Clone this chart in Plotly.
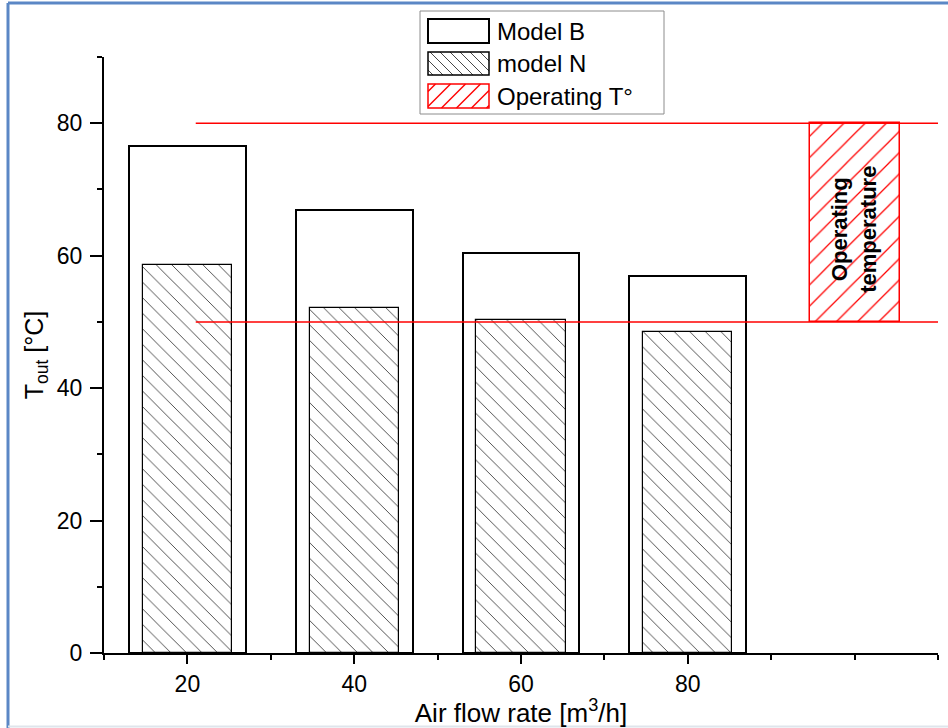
import plotly.graph_objects as go

# ---------------- data ----------------
flow_rates = [20, 40, 60, 80]
model_b = [76.5, 66.9, 60.4, 57.0]
model_n = [58.6, 52.1, 50.3, 48.5]
op_x = [100]
op_low = 50
op_high = 80
x_tickvals = [20, 40, 60, 80]
x_extra_tick = [100]
y_tickvals = [0, 20, 40, 60, 80]
legend_names = ["Model B", "model N", "Operating T°"]

# ---------------- layout geometry ----------------
WIDTH, HEIGHT = 948, 728
L, R, T, B = 104, 938, 57, 653
PW, PH = R - L, B - T
FONT = "Liberation Sans, Arial, sans-serif"


def px(xp):
    return (xp - L) / PW


def py(yp):
    return (B - yp) / PH


fig = go.Figure()

fig.add_trace(go.Bar(
    x=flow_rates, y=model_b, width=14, name=legend_names[0],
    marker=dict(color="white", line=dict(color="black", width=2)),
    showlegend=False,
))
fig.add_trace(go.Bar(
    x=flow_rates, y=model_n, width=10.7, name=legend_names[1],
    marker=dict(color="white", line=dict(color="black", width=1.2),
                pattern=dict(shape="\\", fgcolor="#3a3a3a", bgcolor="white", fgopacity=1,
                             size=11, solidity=0.08)),
    showlegend=False,
))
fig.add_trace(go.Bar(
    x=op_x, y=[op_high - op_low], base=[op_low], width=10.8, name=legend_names[2],
    marker=dict(color="white", line=dict(color="red", width=1.5),
                pattern=dict(shape="/", fgcolor="#ff0000", bgcolor="white", fgopacity=1,
                             size=15, solidity=0.085)),
    showlegend=False,
))

shapes = []
for yv in (op_low, op_high):
    shapes.append(dict(type="line", xref="x", yref="y", x0=21, x1=110, y0=yv, y1=yv,
                       line=dict(color="red", width=1.5), layer="above"))


# ---------------- manual legend ----------------
def hatch(x0, y0, x1, y1, spacing, direction, color, width):
    segs = []
    if direction == "\\":
        c = x0 - y1 + spacing / 2
        while c < x1 - y0:
            ya = max(y0, x0 - c)
            yb = min(y1, x1 - c)
            if yb > ya:
                segs.append(dict(type="line", xref="paper", yref="paper",
                                 x0=px(ya + c), y0=py(ya), x1=px(yb + c), y1=py(yb),
                                 line=dict(color=color, width=width)))
            c += spacing
    else:
        c = x0 + y0 + spacing / 2
        while c < x1 + y1:
            ya = max(y0, c - x1)
            yb = min(y1, c - x0)
            if yb > ya:
                segs.append(dict(type="line", xref="paper", yref="paper",
                                 x0=px(c - ya), y0=py(ya), x1=px(c - yb), y1=py(yb),
                                 line=dict(color=color, width=width)))
            c += spacing
    return segs


shapes.append(dict(type="rect", xref="paper", yref="paper",
                   x0=px(420), x1=px(664), y0=py(11), y1=py(114),
                   line=dict(color="#8c8c8c", width=1), fillcolor="white", layer="above"))
sw_x0, sw_x1 = 428, 489
rows = [(19, 43), (52, 75), (84, 108)]
shapes.append(dict(type="rect", xref="paper", yref="paper",
                   x0=px(sw_x0), x1=px(sw_x1), y0=py(rows[0][0]), y1=py(rows[0][1]),
                   line=dict(color="black", width=2), fillcolor="white"))
shapes += hatch(sw_x0, rows[1][0], sw_x1, rows[1][1], 10, "\\", "#333333", 0.9)
shapes.append(dict(type="rect", xref="paper", yref="paper",
                   x0=px(sw_x0), x1=px(sw_x1), y0=py(rows[1][0]), y1=py(rows[1][1]),
                   line=dict(color="black", width=1.5)))
shapes += hatch(sw_x0, rows[2][0], sw_x1, rows[2][1], 15, "/", "red", 1.4)
shapes.append(dict(type="rect", xref="paper", yref="paper",
                   x0=px(sw_x0), x1=px(sw_x1), y0=py(rows[2][0]), y1=py(rows[2][1]),
                   line=dict(color="red", width=1.5)))

# outer frame
shapes.append(dict(type="line", xref="paper", yref="paper",
                   x0=px(8), x1=px(8), y0=py(3), y1=py(728),
                   line=dict(color="#5B87C5", width=3)))
shapes.append(dict(type="line", xref="paper", yref="paper",
                   x0=px(8), x1=px(948), y0=py(3), y1=py(3),
                   line=dict(color="#5B87C5", width=3)))
shapes.append(dict(type="line", xref="paper", yref="paper",
                   x0=px(8), x1=px(948), y0=py(726.5), y1=py(726.5),
                   line=dict(color="#dfe5ec", width=2)))

annotations = []
for (r0, r1), name in zip(rows, legend_names):
    annotations.append(dict(xref="paper", yref="paper", x=px(495), y=py((r0 + r1) / 2),
                            text=name, showarrow=False, xanchor="left", yanchor="middle",
                            font=dict(family=FONT, size=24, color="black")))

annotations.append(dict(xref="x", yref="y", x=op_x[0], y=64,
                        text="<b>Operating</b><br><b>temperature</b>", showarrow=False,
                        textangle=-90, font=dict(family=FONT, size=22, color="black")))

axis_common = dict(showgrid=False, zeroline=False, showline=True, linecolor="black",
                   linewidth=2, ticks="outside", tickwidth=2, tickcolor="black")

fig.update_layout(
    width=WIDTH, height=HEIGHT,
    margin=dict(l=L, r=WIDTH - R, t=T, b=HEIGHT - B),
    paper_bgcolor="white", plot_bgcolor="white",
    barmode="overlay", bargap=0,
    showlegend=False,
    font=dict(family=FONT, size=22, color="black"),
    shapes=shapes, annotations=annotations,
    xaxis=dict(range=[10, 110], tickvals=x_tickvals, ticklen=9, **axis_common,
               minor=dict(dtick=10, tick0=10, ticks="outside", ticklen=5, tickwidth=2,
                          tickcolor="black", showgrid=False),
               tickfont=dict(size=23), ticklabelstandoff=0,
               title=dict(text="Air flow rate [m<sup>3</sup>/h]", font=dict(size=26), standoff=0)),
    xaxis2=dict(range=[10, 110], overlaying="x", anchor="y", side="bottom",
                tickvals=x_extra_tick, showticklabels=False, showgrid=False, zeroline=False,
                showline=False, ticks="outside", ticklen=9, tickwidth=2, tickcolor="black"),
    yaxis=dict(range=[0, 90], tickvals=y_tickvals, ticklen=12, **axis_common,
               minor=dict(dtick=10, tick0=0, ticks="outside", ticklen=5, tickwidth=2,
                          tickcolor="black", showgrid=False),
               tickfont=dict(size=23), ticklabelstandoff=3,
               title=dict(text="T<sub>out</sub> [°C]", font=dict(size=25), standoff=6)),
)

fig.write_html("out.html", config={"displayModeBar": False},
               post_script="document.body.style.margin='0px';")
